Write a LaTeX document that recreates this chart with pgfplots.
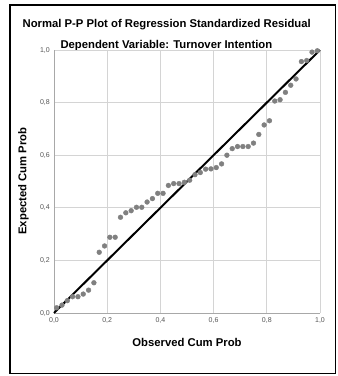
\documentclass[border=0pt]{standalone}
\usepackage{fontspec}
\setmainfont{Liberation Sans}
\usepackage{pgfplots}
\pgfplotsset{compat=1.18}
\definecolor{ptgray}{HTML}{808080}
\definecolor{gridgray}{HTML}{D4D4D4}
\definecolor{axgray}{HTML}{A8A8A8}
\definecolor{lblgray}{HTML}{555555}
\begin{document}
\begin{tikzpicture}[x=1pt,y=1pt]
\useasboundingbox (0,0) rectangle (338,-376);
\fill[white] (0,0) rectangle (338,-376);
\draw[black, line width=1.8pt] (10,-5) rectangle (335.5,-373.5);
\node[font=\fontsize{11.3}{13}\selectfont\bfseries, anchor=base, inner sep=0pt] at (166.7,-27.3) {Normal P-P Plot of Regression Standardized Residual};
\node[font=\fontsize{11.3}{13}\selectfont\bfseries, anchor=base, inner sep=0pt] at (166.4,-48.7) {Dependent Variable: Turnover Intention};
\node[font=\fontsize{11.3}{13}\selectfont\bfseries, anchor=base, inner sep=0pt] at (187,-346.2) {Observed Cum Prob};
\node[font=\fontsize{11.3}{13}\selectfont\bfseries, anchor=base, inner sep=0pt, rotate=90] at (26.5,-181) {Expected Cum Prob};
\begin{axis}[
  at={(54pt,-313pt)}, anchor=south west,
  width=266pt, height=263pt, scale only axis,
  xmin=0, xmax=1, ymin=0, ymax=1,
  axis x line*=bottom, axis y line*=left,
  axis line style={axgray, line width=0.8pt, -},
  xtick={0,0.2,0.4,0.6,0.8,1}, ytick={0,0.2,0.4,0.6,0.8,1},
  major tick length=0pt,
  grid=major,
  major grid style={gridgray, line width=0.8pt},
  /pgf/number format/.cd, assume math mode=true, use comma, fixed, precision=1, fixed zerofill, /pgfplots/.cd,
  tick label style={font=\fontsize{7}{8}\selectfont, text=lblgray, inner sep=0pt},
  xticklabel style={anchor=north, yshift=-4.4pt},
  yticklabel style={anchor=east, xshift=-4pt},
  clip=false,
]
\addplot[only marks, mark=*, mark size=2.4pt, mark options={fill=ptgray, draw=ptgray}] coordinates {
(0.01,0.020) (0.03,0.030) (0.05,0.047) (0.07,0.062) (0.09,0.062)
(0.11,0.072) (0.13,0.087) (0.15,0.115) (0.17,0.231) (0.19,0.255)
(0.21,0.288) (0.23,0.288) (0.25,0.364) (0.27,0.381) (0.29,0.389)
(0.31,0.402) (0.33,0.402) (0.35,0.422) (0.37,0.435) (0.39,0.455)
(0.41,0.455) (0.43,0.485) (0.45,0.492) (0.47,0.492) (0.49,0.497)
(0.51,0.505) (0.53,0.526) (0.55,0.534) (0.57,0.547) (0.59,0.548)
(0.61,0.553) (0.63,0.567) (0.65,0.600) (0.67,0.625) (0.69,0.633)
(0.71,0.633) (0.73,0.633) (0.75,0.646) (0.77,0.679) (0.79,0.715)
(0.81,0.731) (0.83,0.806) (0.85,0.811) (0.87,0.839) (0.89,0.866)
(0.91,0.890) (0.93,0.956) (0.95,0.960) (0.97,0.992) (0.99,0.997)
};
\addplot[black, line width=2pt] coordinates {(0,0) (1,1)};
\end{axis}
\end{tikzpicture}
\end{document}
